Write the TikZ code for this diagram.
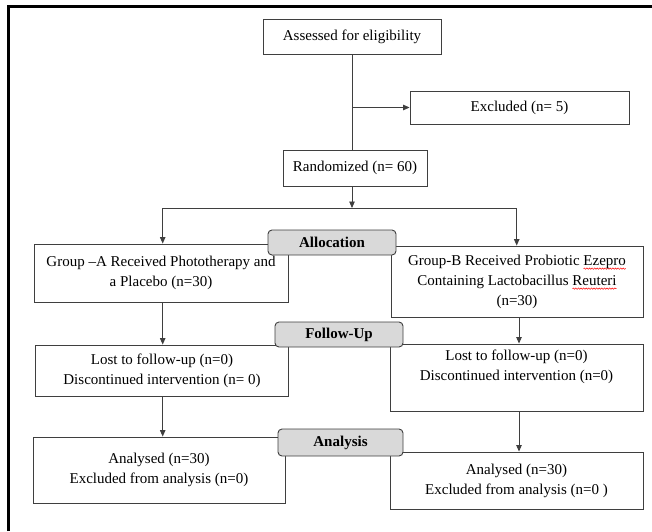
\documentclass[tikz,border=0pt]{standalone}
\usepackage{fontspec}
\setmainfont{Liberation Serif}
\usetikzlibrary{arrows.meta,decorations.pathmorphing}
\definecolor{edge}{HTML}{3F3F3F}
\definecolor{lblfill}{HTML}{D9D9D9}
\newlength\wavelen
\newcommand\spellwave[1]{\settowidth\wavelen{#1}\rlap{\tikz[overlay,baseline=0pt,x=1pt,y=1pt]\draw[red,line width=0.5pt,decorate,decoration={snake,amplitude=0.7pt,segment length=2.6pt}] (0,-3.5) -- (\wavelen,-3.5);}#1}
\tikzset{
  box/.style={draw=edge, line width=0.9pt, fill=white, align=center, inner sep=0pt,
              font=\fontsize{15}{20}\selectfont},
  lbl/.style={draw=edge, line width=0.9pt, fill=lblfill, rounded corners=4pt, inner sep=0pt,
              font=\fontsize{15}{20}\selectfont\bfseries},
  conn/.style={draw=edge, line width=0.9pt},
  arr/.style={conn, -{Triangle[length=6.5pt,width=5.5pt]}},
  frame/.style={draw=black, line width=2.8pt}
}
\begin{document}
\begin{tikzpicture}[x=1pt,y=-1pt]
\useasboundingbox (0,0) rectangle (652,531);
% outer frame
\draw[frame] (8.5,531) -- (8.5,6.7) -- (652,6.7);
% boxes
\node[box, minimum width=178pt, minimum height=35pt] (assess) at (352,36.5) {Assessed for eligibility};
\node[box, minimum width=219pt, minimum height=33pt] (excl) at (519.5,107.5) {Excluded (n= 5)};
\node[box, minimum width=144pt, minimum height=36pt] (rand) at (355,168) {Randomized (n= 60)};
\node[box, minimum width=254pt, minimum height=58pt] (grpA) at (161,273) {Group –A Received Phototherapy and\\a Placebo (n=30)};
\node[box, minimum width=252pt, minimum height=71pt] (grpB) at (517,281.5) {Group-B Received Probiotic \spellwave{Ezepro}\\Containing Lactobacillus \spellwave{Reuteri}\\(n=30)};
\node[box, minimum width=253pt, minimum height=51pt] (fuA) at (162,370.5) {Lost to follow-up (n=0)\\Discontinued intervention (n= 0)};
\node[box, minimum width=253pt, minimum height=67pt] (fuB) at (516.5,377.5) {Lost to follow-up (n=0)\\Discontinued intervention (n=0)\\[4pt]};
\node[box, minimum width=252pt, minimum height=66pt] (anA) at (159,470) {Analysed (n=30)\\Excluded from analysis (n=0)};
\node[box, minimum width=253pt, minimum height=57pt] (anB) at (516.5,480.5) {Analysed (n=30)\\Excluded from analysis (n=0 )};
% connectors
\coordinate (j1) at (assess.south |- excl.west);
\coordinate (split) at (352,208);
\coordinate (sl) at (162.7,208);
\coordinate (sr) at (516.7,208);
\coordinate (colB) at (519,317);
\draw[conn] (assess.south) -- (assess.south |- rand.north);
\draw[arr] (j1) -- (excl.west);
\draw[arr] (split |- rand.south) -- (split);
\draw[conn] (sl) -- (sr);
\draw[arr] (sl) -- (sl |- grpA.north);
\draw[arr] (sr) -- (sr |- grpB.north);
\draw[arr] (sl |- grpA.south) -- (sl |- fuA.north);
\draw[arr] (sl |- fuA.south) -- (sl |- anA.north);
\draw[arr] (colB |- grpB.south) -- (colB |- fuB.north);
\draw[arr] (colB |- fuB.south) -- (colB |- anB.north);
% phase labels
\node[lbl, minimum width=128pt, minimum height=25pt] (alloc) at (332,242.5) {Allocation};
\node[lbl, minimum width=128pt, minimum height=25pt] (follow) at (339,334.5) {Follow-Up};
\node[lbl, minimum width=125pt, minimum height=27pt] (analysis) at (340.5,442.5) {Analysis};
\end{tikzpicture}
\end{document}
